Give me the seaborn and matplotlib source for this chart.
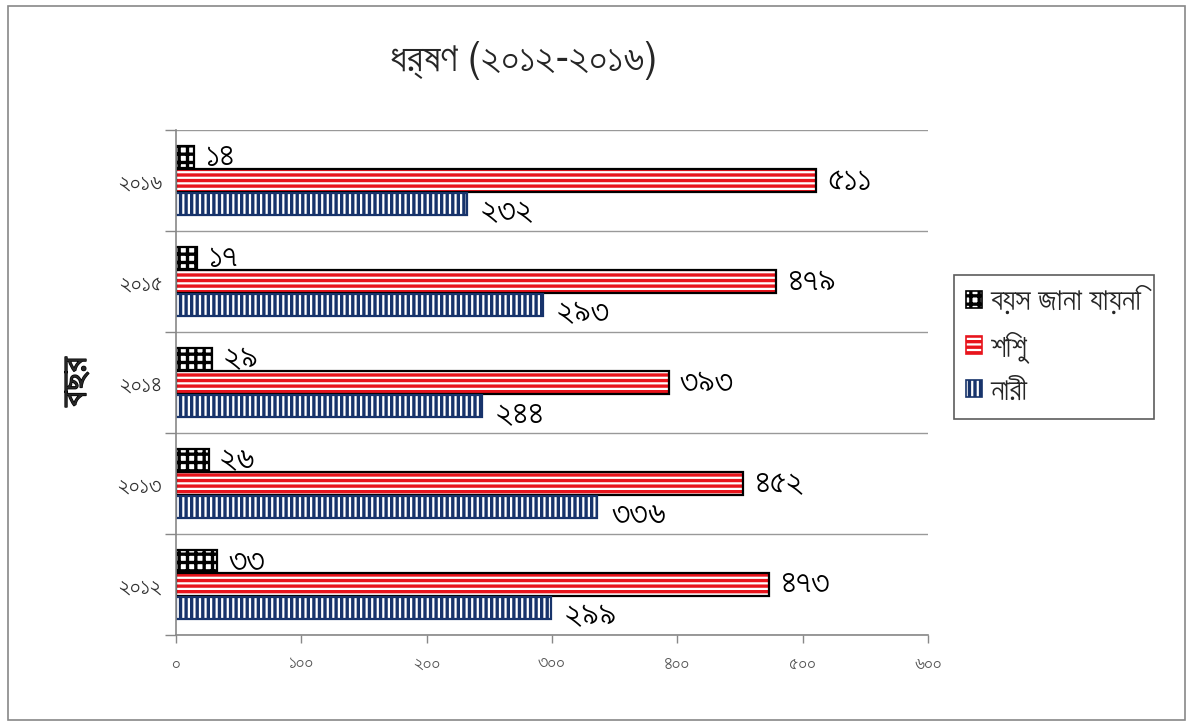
import matplotlib
matplotlib.use("Agg")
import matplotlib.pyplot as plt
import matplotlib.font_manager as fm
import matplotlib.patheffects as pe
from matplotlib.patches import Rectangle, Patch
import numpy as np
import pandas as pd
import seaborn as sns

# ---------------- data ----------------
years = ["২০১৬", "২০১৫", "২০১৪", "২০১৩", "২০১২"]
series_names = ["বয়স জানা যায়নি", "শিশু", "নারী"]
unknown = [14, 17, 29, 26, 33]
child = [511, 479, 393, 452, 473]
women = [232, 293, 244, 336, 299]
x_ticks = [0, 100, 200, 300, 400, 500, 600]
x_tick_labels = ["০", "১০০", "২০০", "৩০০", "৪০০", "৫০০", "৬০০"]
title_text = "ধর্ষণ (২০১২-২০১৬)"
y_label_text = "বছর"

BN_DIGITS = str.maketrans("0123456789", "০১২৩৪৫৬৭৮৯")


def to_bn(v):
    return str(v).translate(BN_DIGITS)


# ---------------- fonts ----------------
def pick_bengali_font():
    names = {f.name for f in fm.fontManager.ttflist}
    for cand in ["FreeSans", "FreeSerif", "Hind Siliguri", "Anek Bangla"]:
        if cand in names:
            return cand
    try:
        from fontTools.ttLib import TTFont
        for f in fm.fontManager.ttflist:
            try:
                cmap = TTFont(f.fname, fontNumber=0, lazy=True).getBestCmap()
                if cmap and 0x09A7 in cmap:
                    return f.name
            except Exception:
                continue
    except Exception:
        pass
    return None


sns.set_theme(style="white")
bn_font = pick_bengali_font()
plt.rcParams["font.family"] = ([bn_font] if bn_font else []) + ["DejaVu Sans"]
plt.rcParams["hatch.linewidth"] = 2.4

# ---------------- long data ----------------
df = pd.DataFrame({
    "year": years * 3,
    "value": unknown + child + women,
    "kind": [series_names[0]] * 5 + [series_names[1]] * 5 + [series_names[2]] * 5,
})

fig = plt.figure(figsize=(11.92, 7.26), dpi=100)
ax = fig.add_axes([176 / 1192, 1 - 635 / 726, (928 - 176) / 1192, (635 - 130) / 726])

sns.barplot(data=df, x="value", y="year", hue="kind", order=years,
            hue_order=series_names, orient="h", width=0.7, gap=0.04,
            palette=["white"] * 3, legend=False, ax=ax, saturation=1)

styles = [
    dict(hatch="++", hcolor="black", edge="black"),
    dict(hatch="---", hcolor="#e8141c", edge="black"),
    dict(hatch="|||", hcolor="#17336b", edge="#17336b"),
]

has_hc = hasattr(Patch, "set_hatchcolor")
for cont, st in zip(ax.containers, styles):
    for p in cont:
        p.set_facecolor("white")
        p.set_hatch(st["hatch"])
        if has_hc:
            p.set_hatchcolor(st["hcolor"])
            p.set_edgecolor(st["edge"])
            p.set_linewidth(1.6)
        else:
            p.set_edgecolor(st["hcolor"])
            p.set_linewidth(0)
            ax.add_patch(Rectangle(p.get_xy(), p.get_width(), p.get_height(),
                                   fill=False, edgecolor=st["edge"], lw=1.6,
                                   zorder=p.get_zorder() + 0.1))

# data labels
series_vals = [unknown, child, women]
for i, (cont, vals) in enumerate(zip(ax.containers, series_vals)):
    anns = ax.bar_label(cont, labels=[to_bn(v) for v in vals], padding=8,
                        fontsize=25, color="black")
    if i == 2:
        for a in anns:
            a.xyann = (a.xyann[0] + 2, -6)

# axes styling
ax.set_xlim(0, 600)
ax.set_ylim(len(years) - 0.5, -0.5)
ax.set_xticks(x_ticks)
ax.set_xticklabels(x_tick_labels, fontsize=14, color="#555555")
ax.tick_params(axis="x", direction="out", length=6, width=1, color="#888888", pad=8, bottom=True)
ax.set_yticks(range(len(years)))
ax.set_yticklabels(years, fontsize=17, color="#333333")
ax.tick_params(axis="y", which="major", length=0, pad=10)
ax.set_yticks(np.arange(-0.5, len(years), 1.0), minor=True)
ax.tick_params(axis="y", which="minor", direction="out", length=8, width=1, color="#888888", left=True)
ax.grid(False)
ax.grid(axis="y", which="minor", color="#999999", linewidth=1)
ax.set_axisbelow(True)
for s in ["top", "right"]:
    ax.spines[s].set_visible(False)
for s in ["left", "bottom"]:
    ax.spines[s].set_color("#888888")
    ax.spines[s].set_linewidth(1.2)
ax.set_xlabel("")
ax.set_ylabel("")

fig.text(76 / 1192, 1 - 382 / 726, y_label_text, rotation=90, ha="center", va="center",
         fontsize=27, path_effects=[pe.withStroke(linewidth=1.0, foreground="black")])
fig.text(524 / 1192, 1 - 60 / 726, title_text, ha="center", va="center", fontsize=29)

# legend
handles = []
for st in styles:
    if has_hc:
        h = Patch(facecolor="white", hatch=st["hatch"], edgecolor=st["edge"], lw=1.2)
        h.set_hatchcolor(st["hcolor"])
    else:
        h = Patch(facecolor="white", hatch=st["hatch"], edgecolor=st["hcolor"], lw=1.2)
    handles.append(h)
leg = fig.legend(handles, series_names, loc="upper left",
                 bbox_to_anchor=(954 / 1192, 1 - 275 / 726), borderaxespad=0,
                 fontsize=22, frameon=True, fancybox=False, edgecolor="#333333",
                 handlelength=0.5, handleheight=0.5, handletextpad=0.3,
                 labelspacing=0.45, borderpad=0.4)
leg.get_frame().set_linewidth(1.2)

# figure border
fig.patches.append(Rectangle((8 / 1192, 6 / 726), 1177 / 1192, 714 / 726,
                             transform=fig.transFigure, fill=False,
                             edgecolor="#888888", lw=1.2))

fig.savefig("out.png", dpi=100)
